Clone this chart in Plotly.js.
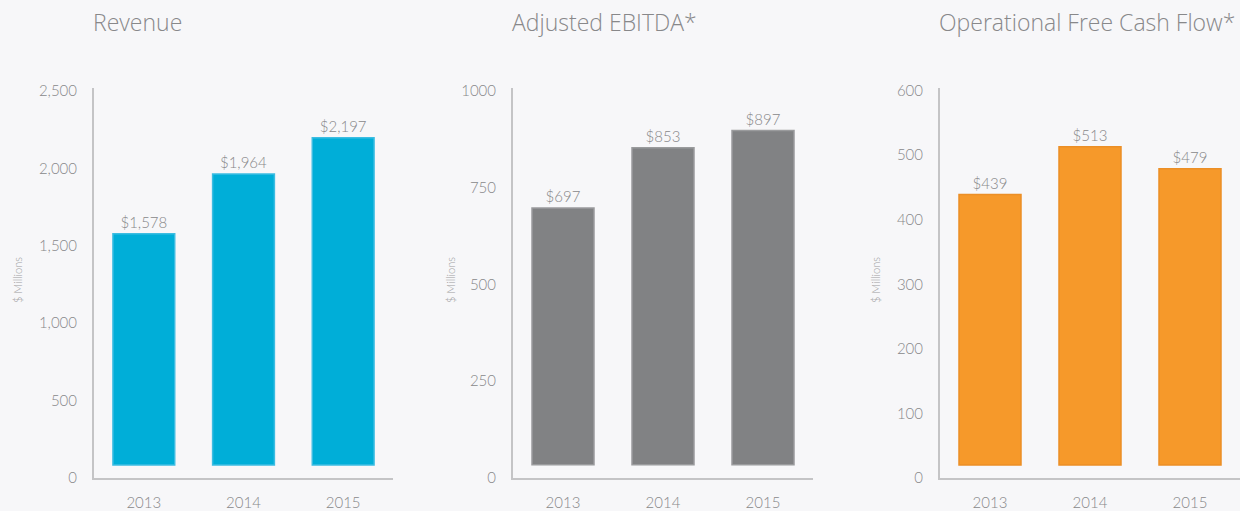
<!DOCTYPE html>
<html>
<head>
<meta charset="utf-8">
<script src="https://cdn.plot.ly/plotly-3.0.1.min.js"></script>
<style>
  html, body { margin: 0; padding: 0; background: #f7f7f9; }
  #chart { width: 1240px; height: 511px; }
</style>
</head>
<body>
<div id="chart"></div>
<script>
// ---- Data ----
const years = ["2013", "2014", "2015"];
const revenue = [1578, 1964, 2197];
const ebitda = [697, 853, 897];
const fcf = [439, 513, 479];
const titles = ["Revenue", "Adjusted EBITDA*", "Operational Free Cash Flow*"];
const revenueLabels = ["$1,578", "$1,964", "$2,197"];
const ebitdaLabels = ["$697", "$853", "$897"];
const fcfLabels = ["$439", "$513", "$479"];

// ---- Style ----
const W = 1240, H = 511;
const FONT = "Lato, 'Open Sans', sans-serif";
const TFONT = "'Open Sans', Lato, sans-serif";
const GREY = "#88888a";
const AXIS = "#c4c4c6";
const yDomain = [33 / H, 423 / H];
const panels = [
  { vals: revenue, labels: revenueLabels, color: "#00aed8", line: "#3cbde2", xd: [94, 393], range: [0, 2519], dtick: 500, fmt: ",d", base: 84, ytx: 17 },
  { vals: ebitda, labels: ebitdaLabels, color: "#818284", line: "#9a9b9d", xd: [513, 813], range: [0, 1007], dtick: 250, fmt: "d", base: 34, ytx: 450 },
  { vals: fcf, labels: fcfLabels, color: "#f6992a", line: "#ec8f26", xd: [940, 1240], range: [0, 604], dtick: 100, fmt: "d", base: 20, ytx: 875 }
];

const data = [];
const layout = {
  width: W, height: H,
  margin: { l: 0, r: 0, t: 0, b: 0 },
  paper_bgcolor: "#f7f7f9",
  plot_bgcolor: "rgba(0,0,0,0)",
  showlegend: false,
  bargap: 0.38,
  font: { family: FONT, color: GREY },
  annotations: []
};

panels.forEach((p, i) => {
  const n = i === 0 ? "" : String(i + 1);
  data.push({
    type: "bar",
    x: years,
    y: p.vals.map(v => v - p.base),
    base: p.base,
    text: p.labels,
    textposition: "outside",
    cliponaxis: false,
    constraintext: "none",
    textfont: { family: FONT, size: 15, color: GREY, weight: 300 },
    marker: { color: p.color, line: { color: p.line, width: 1.5 } },
    xaxis: "x" + n,
    yaxis: "y" + n,
    hoverinfo: "skip"
  });
  layout["xaxis" + n] = {
    domain: [p.xd[0] / W, p.xd[1] / W],
    anchor: "y" + n,
    type: "category",
    showline: true, linecolor: AXIS, linewidth: 2,
    showgrid: false, zeroline: false,
    ticks: "outside", ticklen: 10, tickcolor: "rgba(0,0,0,0)",
    tickfont: { family: FONT, size: 15, color: GREY, weight: 300 },
    fixedrange: true
  };
  layout["yaxis" + n] = {
    domain: yDomain,
    anchor: "x" + n,
    range: p.range,
    dtick: p.dtick,
    tickformat: p.fmt,
    showline: true, linecolor: AXIS, linewidth: 2,
    showgrid: false, zeroline: false,
    ticks: "outside", ticklen: 12, tickcolor: "rgba(0,0,0,0)",
    tickfont: { family: FONT, size: 15, color: GREY, weight: 300 },
    fixedrange: true
  };
  layout.annotations.push({
    text: titles[i],
    xref: "paper", yref: "paper",
    x: (p.xd[0] - 3) / W, y: 1 - 22 / H,
    xanchor: "left", yanchor: "middle",
    showarrow: false,
    font: { family: TFONT, size: 23, color: GREY, weight: 300 }
  });
  layout.annotations.push({
    text: "$ Millions",
    xref: "paper", yref: "paper",
    x: p.ytx / W, y: 1 - 280 / H,
    xanchor: "center", yanchor: "middle",
    textangle: -90,
    showarrow: false,
    font: { family: FONT, size: 11, color: "#a0a0a2", weight: 300 }
  });
});

Plotly.newPlot("chart", data, layout, { displayModeBar: false, staticPlot: true });
</script>
</body>
</html>
